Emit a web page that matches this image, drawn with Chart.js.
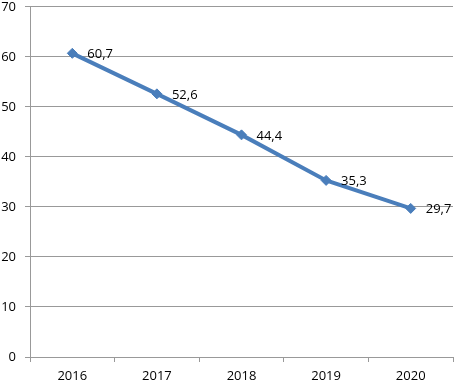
<!DOCTYPE html>
<html>
<head>
<meta charset="utf-8">
<script src="https://cdn.jsdelivr.net/npm/chart.js@4"></script>
<style>
  html, body { margin: 0; padding: 0; background: #fff; }
  #wrap { position: relative; width: 459px; height: 383px; overflow: hidden; }
  #wrap canvas { position: absolute; left: 0; top: -10px; }
</style>
</head>
<body>
<div id="wrap"><canvas id="chart" width="459" height="393"></canvas></div>
<script>
// dados do gráfico
const anos = ['2016', '2017', '2018', '2019', '2020'];
const valores = [60.7, 52.6, 44.4, 35.3, 29.7];
const yTicks = [0, 10, 20, 30, 40, 50, 60, 70];

// rótulos de valor à direita de cada ponto (vírgula decimal)
const rotulos = {
    id: 'rotulos',
    afterDatasetsDraw(chart) {
        const ctx = chart.ctx;
        const meta = chart.getDatasetMeta(0);
        ctx.save();
        ctx.font = '13px "Open Sans", sans-serif';
        ctx.fillStyle = '#000';
        ctx.textAlign = 'left';
        ctx.textBaseline = 'middle';
        meta.data.forEach((pt, i) => {
            const txt = valores[i].toFixed(1).replace('.', ',');
            ctx.fillText(txt, pt.x + 15, pt.y + 1);
        });
        ctx.restore();
    }
};

const ctx = document.getElementById('chart').getContext('2d');
new Chart(ctx, {
    type: 'line',
    data: {
        labels: anos,
        datasets: [{
            data: valores,
            borderColor: '#4a7ebb',
            backgroundColor: '#4a7ebb',
            borderWidth: 4,
            pointStyle: 'rectRot',
            pointRadius: 5,
            pointBorderWidth: 1,
            tension: 0,
            fill: false
        }]
    },
    options: {
        responsive: false,
        animation: false,
        layout: { padding: { top: 0, right: 1, left: 0, bottom: 0 } },
        plugins: {
            legend: { display: false },
            tooltip: { enabled: false }
        },
        scales: {
            x: {
                offset: true,
                afterFit(axis) { axis.height = 26; },
                grid: {
                    offset: true,
                    drawOnChartArea: false,
                    drawTicks: true,
                    tickLength: 5,
                    color: '#999'
                },
                border: { color: '#999', width: 1 },
                ticks: {
                    color: '#000',
                    font: { family: 'Open Sans', size: 13 },
                    padding: 6,
                    maxRotation: 0
                }
            },
            y: {
                min: 0,
                max: 70,
                afterFit(axis) { axis.width = 30; },
                afterBuildTicks(axis) {
                    axis.ticks = yTicks.map(v => ({ value: v }));
                },
                grid: {
                    color: '#999',
                    tickLength: 5
                },
                border: { color: '#999', width: 1 },
                ticks: {
                    color: '#000',
                    font: { family: 'Open Sans', size: 13 },
                    padding: 9
                }
            }
        }
    },
    plugins: [rotulos]
});
</script>
</body>
</html>
